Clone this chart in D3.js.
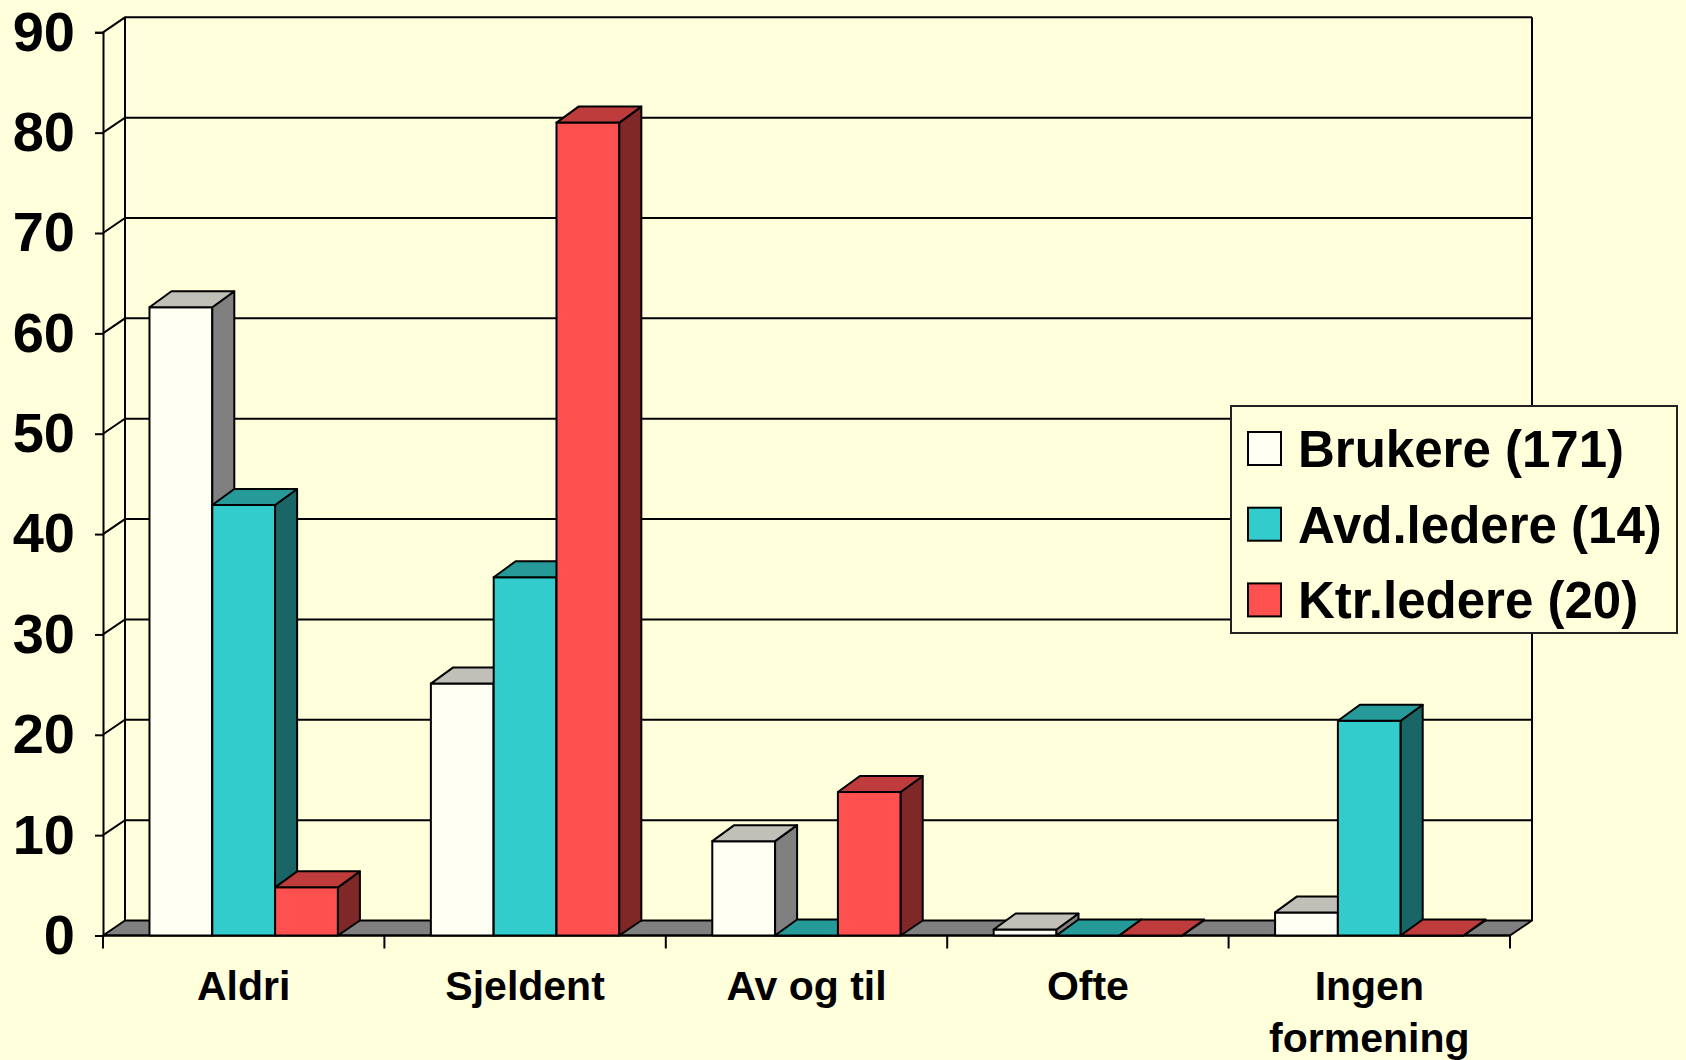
<!DOCTYPE html>
<html>
<head>
<meta charset="utf-8">
<script src="https://cdn.jsdelivr.net/npm/d3@7"></script>
<style>
  html, body { margin: 0; padding: 0; background: #ffffdc; }
  svg { display: block; }
  text { font-family: "Liberation Sans", Arial, sans-serif; font-weight: bold; fill: #000; }
</style>
</head>
<body>
<div id="chart"></div>
<script>

// data (percent)
let categories = ["Aldri", "Sjeldent", "Av og til", "Ofte", "Ingen formening"];
let categoryLines = [["Aldri"], ["Sjeldent"], ["Av og til"], ["Ofte"], ["Ingen", "formening"]];
let seriesNames = ["Brukere (171)", "Avd.ledere (14)", "Ktr.ledere (20)"];
let brukere = [62.6, 25.1, 9.4, 0.6, 2.3];
let avdLedere = [42.9, 35.7, 0, 0, 21.4];
let ktrLedere = [4.8, 81.0, 14.3, 0, 0];
let yTicks = [0, 10, 20, 30, 40, 50, 60, 70, 80, 90];

let seriesValues = [brukere, avdLedere, ktrLedere];
let fronts = ["#fffff4", "#33cccc", "#ff5050"];
let tops = ["#c0c0b8", "#269999", "#bf3c3c"];
let sides = ["#808080", "#1a6666", "#802828"];

let W = 1686, H = 1060;
let DX = 22, DY = 15;   // depth offset of the 3d look
let BAR_DY = 16;

let svg = d3.select("#chart")
    .append("svg")
        .attr("width", W)
        .attr("height", H);

svg.append("rect")
    .attr("width", W).attr("height", H)
    .attr("fill", "#ffffdc");

let y = d3.scaleLinear()
    .domain([0, 90])
    .range([935.5, 32.3]);

let x0 = d3.scaleBand()
    .domain(categories)
    .range([103, 1510]);

let x1 = d3.scaleBand()
    .domain(seriesNames)
    .range([0, x0.bandwidth()])
    .paddingOuter(0.74);

let xL = x0.range()[0], xR = x0.range()[1];
let line = d3.line();

// walls: grid lines on the back wall and the diagonals on the left wall
let walls = svg.append("g")
    .attr("stroke", "#000")
    .attr("stroke-width", 2)
    .attr("fill", "none");

walls.selectAll("path.grid")
    .data(yTicks.filter(t => t > 0))
    .join("path")
        .attr("class", "grid")
        .attr("d", t => line([[xL, y(t)], [xL + DX, y(t) - DY], [xR + DX, y(t) - DY]]));

walls.append("path")
    .attr("d", line([[xL + DX, y(90) - DY], [xL + DX, y(0) - DY]]));
walls.append("path")
    .attr("d", line([[xR + DX, y(90) - DY], [xR + DX, y(0) - DY]]));

// floor
svg.append("path")
    .attr("d", line([[xL, y(0)], [xR, y(0)], [xR + DX, y(0) - DY], [xL + DX, y(0) - DY]]) + "Z")
    .attr("fill", "#808080")
    .attr("stroke", "#000")
    .attr("stroke-width", 2)
    .attr("stroke-linejoin", "round");

// y axis on the front edge
let yAxis = svg.append("g")
    .attr("transform", `translate(${xL},0)`)
    .call(d3.axisLeft(y).tickValues(yTicks).tickSize(8).tickPadding(20));
yAxis.select(".domain").attr("stroke", "#000").attr("stroke-width", 2);
yAxis.selectAll(".tick line").attr("stroke", "#000").attr("stroke-width", 2);
yAxis.selectAll(".tick text")
    .attr("font-size", 56)
    .attr("font-family", "Liberation Sans, Arial, sans-serif")
    .attr("font-weight", "bold")
    .attr("fill", "#000");

// x axis on the front floor edge
let xAxis = svg.append("g")
    .attr("stroke", "#000")
    .attr("stroke-width", 2);
xAxis.append("path")
    .attr("d", line([[xL, y(0)], [xR, y(0)]]));
xAxis.selectAll("path.tick")
    .data(categories.map(c => x0(c)).concat([xR]))
    .join("path")
        .attr("class", "tick")
        .attr("d", d => line([[d, y(0)], [d, y(0) + 13]]));

svg.append("g")
    .selectAll("text")
    .data(categories)
    .join("text")
        .attr("x", d => x0(d) + x0.bandwidth() / 2)
        .attr("y", 1000)
        .attr("text-anchor", "middle")
        .attr("font-size", 41)
        .each(function(d, i) {
            d3.select(this).selectAll("tspan")
                .data(categoryLines[i])
                .join("tspan")
                    .attr("x", x0(d) + x0.bandwidth() / 2)
                    .attr("dy", (t, j) => j === 0 ? 0 : 51.6)
                    .text(t => t);
        });

// 3d bars, drawn left to right so neighbours hide the side faces
let bars = [];
categories.forEach((c, ci) => {
    seriesNames.forEach((s, si) => {
        bars.push({c: c, s: s, si: si, v: seriesValues[si][ci]});
    });
});

let barG = svg.append("g")
    .attr("stroke", "#000")
    .attr("stroke-width", 2)
    .attr("stroke-linejoin", "round");

bars.forEach(b => {
    let xa = x0(b.c) + x1(b.s), xb = xa + x1.bandwidth();
    let yt = y(b.v), yb = y(0);
    let g = barG.append("g");
    g.append("path")
        .attr("d", line([[xa, yt], [xb, yt], [xb, yb], [xa, yb]]) + "Z")
        .attr("fill", fronts[b.si]);
    g.append("path")
        .attr("d", line([[xb, yt], [xb + DX, yt - BAR_DY], [xb + DX, yb - DY], [xb, yb]]) + "Z")
        .attr("fill", sides[b.si]);
    g.append("path")
        .attr("d", line([[xa, yt], [xb, yt], [xb + DX, yt - BAR_DY], [xa + DX, yt - BAR_DY]]) + "Z")
        .attr("fill", tops[b.si]);
});

// legend
let legend = svg.append("g")
    .attr("transform", "translate(1231,406)");
legend.append("rect")
    .attr("width", 446)
    .attr("height", 227)
    .attr("fill", "#ffffdc")
    .attr("stroke", "#222")
    .attr("stroke-width", 2);
let items = legend.selectAll("g.item")
    .data(seriesNames)
    .join("g")
        .attr("class", "item")
        .attr("transform", (d, i) => `translate(17,${26 + i * 75.7})`);
items.append("rect")
    .attr("width", 33)
    .attr("height", 33)
    .attr("fill", (d, i) => fronts[i])
    .attr("stroke", "#000")
    .attr("stroke-width", 2);
items.append("text")
    .attr("x", 50)
    .attr("y", 35)
    .attr("font-size", 51)
    .text(d => d);

</script>
</body>
</html>
